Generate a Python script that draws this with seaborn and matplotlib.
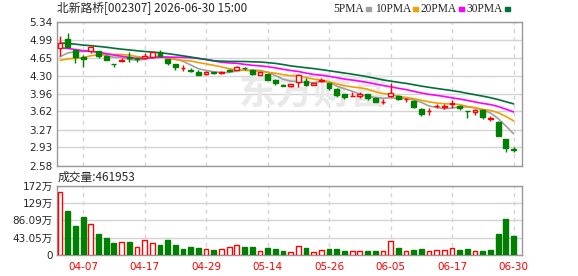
import numpy as np
import pandas as pd
import seaborn as sns
import matplotlib.pyplot as plt
from matplotlib.patches import Rectangle

# --- data ---
dates = ['04-01', '04-02', '04-03', '04-07', '04-08', '04-09', '04-10', '04-13', '04-14', '04-15',
         '04-16', '04-17', '04-20', '04-21', '04-22', '04-23', '04-24', '04-27', '04-28', '04-29',
         '04-30', '05-06', '05-07', '05-08', '05-11', '05-12', '05-13', '05-14', '05-15', '05-18',
         '05-19', '05-20', '05-21', '05-22', '05-25', '05-26', '05-27', '05-28', '05-29', '06-01',
         '06-02', '06-03', '06-04', '06-05', '06-08', '06-09', '06-10', '06-11', '06-12', '06-15',
         '06-16', '06-17', '06-18', '06-22', '06-23', '06-24', '06-25', '06-26', '06-29', '06-30']

open_p = [4.84, 5.01, 4.80, 4.66, 4.78, 4.77, 4.68, 4.53, 4.59, 4.66,
          4.64, 4.64, 4.67, 4.76, 4.62, 4.53, 4.45, 4.41, 4.38, 4.33,
          4.37, 4.35, 4.41, 4.41, 4.46, 4.42, 4.32, 4.33, 4.22, 4.12,
          4.10, 4.19, 4.21, 4.13, 4.20, 4.16, 4.05, 3.95, 3.91, 3.91,
          3.95, 3.87, 3.80, 3.92, 3.92, 3.85, 3.82, 3.67, 3.62, 3.72,
          3.71, 3.77, 3.73, 3.63, 3.60, 3.64, 3.48, 3.42, 3.09, 2.90]
high_p = [5.06, 5.12, 4.82, 4.70, 4.88, 4.78, 4.70, 4.53, 4.64, 4.75,
          4.65, 4.74, 4.76, 4.79, 4.63, 4.53, 4.51, 4.45, 4.42, 4.39,
          4.38, 4.39, 4.44, 4.50, 4.47, 4.43, 4.37, 4.33, 4.25, 4.14,
          4.15, 4.34, 4.27, 4.17, 4.26, 4.17, 4.07, 3.96, 4.00, 4.00,
          3.96, 3.87, 3.86, 4.17, 3.93, 3.88, 3.83, 3.68, 3.68, 3.76,
          3.76, 3.83, 3.74, 3.63, 3.67, 3.67, 3.53, 3.43, 3.09, 2.94]
low_p = [4.68, 4.84, 4.54, 4.48, 4.74, 4.64, 4.61, 4.48, 4.57, 4.57,
         4.57, 4.62, 4.64, 4.66, 4.51, 4.42, 4.40, 4.37, 4.32, 4.31,
         4.33, 4.34, 4.38, 4.41, 4.42, 4.32, 4.32, 4.22, 4.12, 4.10,
         4.09, 4.09, 4.10, 4.12, 4.18, 4.04, 3.90, 3.85, 3.91, 3.87,
         3.84, 3.81, 3.77, 3.90, 3.84, 3.81, 3.69, 3.53, 3.56, 3.69,
         3.66, 3.69, 3.65, 3.50, 3.56, 3.48, 3.43, 3.14, 2.85, 2.84]
close_p = [4.93, 4.86, 4.66, 4.63, 4.85, 4.69, 4.61, 4.52, 4.61, 4.65,
           4.63, 4.68, 4.75, 4.68, 4.54, 4.47, 4.46, 4.40, 4.32, 4.38,
           4.35, 4.38, 4.40, 4.48, 4.45, 4.34, 4.37, 4.22, 4.16, 4.11,
           4.14, 4.32, 4.13, 4.16, 4.23, 4.07, 3.93, 3.89, 3.92, 3.95,
           3.87, 3.81, 3.81, 3.98, 3.86, 3.86, 3.70, 3.57, 3.63, 3.73,
           3.72, 3.78, 3.68, 3.62, 3.64, 3.52, 3.49, 3.15, 2.91, 2.89]

# volume in 万 (10k)
vol_wan = [157.7, 109.4, 71.9, 94.4, 76.9, 51.8, 41.8, 29.3, 31.0, 31.8,
           18.5, 36.0, 28.5, 23.5, 36.0, 23.5, 13.5, 18.5, 16.0, 13.5,
           11.8, 13.5, 18.5, 23.5, 19.3, 19.3, 8.5, 16.8, 14.3, 10.0,
           6.8, 22.5, 16.8, 6.8, 11.0, 14.3, 14.3, 9.3, 9.3, 9.3,
           9.3, 9.3, 9.3, 34.3, 16.8, 9.3, 11.8, 14.3, 9.3, 11.8,
           11.8, 16.0, 11.8, 14.3, 9.3, 9.3, 11.8, 51.8, 89.4, 46.1953]
vol_up = [1, 0, 0, 0, 1, 0, 0, 0, 1, 0,
          1, 1, 1, 0, 0, 0, 0, 0, 0, 1,
          0, 1, 1, 1, 0, 0, 1, 0, 0, 0,
          1, 1, 0, 1, 1, 0, 0, 0, 1, 1,
          0, 0, 1, 1, 0, 1, 0, 0, 1, 1,
          1, 1, 0, 0, 1, 0, 0, 0, 0, 0]

# closes before the window, back-solved from where the MA lines start
prior_close = [5.05, 5.10, 5.15, 5.18, 5.12, 5.08, 5.10, 5.14, 5.08, 5.10,
               5.12, 5.06, 5.10, 5.04, 5.08, 5.13, 5.07, 5.05, 5.09, 5.06,
               4.60, 4.55, 4.50, 4.48, 4.52, 4.50, 4.55, 4.62, 4.75]

ma_windows = [5, 10, 20, 30]
ma_names = ['5PMA', '10PMA', '20PMA', '30PMA']
ma_colors = ['#a0a0a0', '#f0a000', '#ff00ff', '#00703a']

price_ticks = [2.58, 2.93, 3.27, 3.62, 3.96, 4.30, 4.65, 4.99, 5.34]
price_labels = ['2.58', '2.93', '3.27', '3.62', '3.96', '4.30', '4.65', '4.99', '5.34']
vol_ticks = [0, 43.05, 86.09, 129, 172]
vol_labels = ['0', '43.05万', '86.09万', '129万', '172万']
label_idx = [3, 11, 19, 27, 35, 43, 51, 59]

RED = '#ff0000'
GREEN = '#008000'
GRID = '#d4d4d4'
EDGE = '#999999'
CJK = ['Noto Sans CJK SC', 'DejaVu Sans']

sns.set_style('white')
plt.rcParams['font.family'] = ['DejaVu Sans', 'Noto Sans CJK SC']

W, H = 578, 276
fig = plt.figure(figsize=(W / 100, H / 100), dpi=100)


def box(l, t, r, b):
    return [l / W, 1 - b / H, (r - l) / W, (b - t) / H]


ax = fig.add_axes(box(57, 21.7, 522, 165.7))
axv = fig.add_axes(box(57, 186, 522, 254.7))

x = np.arange(len(dates))
o = np.array(open_p)
c = np.array(close_p)
up = c >= o
col = np.where(up, RED, GREEN)

# watermark, under everything in the price panel
ax.text(314 / W, 1 - 93 / H, '东方财富', color='#e9e9e9', fontsize=27, weight='bold',
        family=CJK, ha='center', va='center', transform=fig.transFigure, zorder=1)

# moving averages
all_close = pd.Series(prior_close + close_p)
for w, colr in zip(ma_windows, ma_colors):
    ma = all_close.rolling(w).mean().iloc[len(prior_close):].to_numpy()
    sns.lineplot(x=x, y=ma, color=colr, lw=1.2, ax=ax, zorder=2)

# candles
ax.vlines(x, low_p, high_p, colors=col, lw=1, zorder=3)
body = np.maximum(np.abs(c - o), 0.004)
ax.bar(x, body, bottom=np.minimum(o, c), width=0.62,
       color=np.where(up, 'white', GREEN), edgecolor=col, lw=1, zorder=4)

ax.set_xlim(-0.4, 60.1)
ax.set_ylim(2.58, 5.34)
ax.set_yticks(price_ticks)
ax.set_yticklabels(price_labels)
ax.set_xticks(label_idx)
ax.set_xticklabels([])
ax.tick_params(length=0, pad=3, labelsize=7.5)
ax.set_axisbelow(True)
ax.grid(axis='y', color=GRID, lw=1, ls='-')
ax.grid(axis='x', color=GRID, lw=1, ls=(0, (3, 3)))
ax.set_xlabel('')
ax.set_ylabel('')

# volume
axv.bar(x, vol_wan, width=0.62,
        color=['white' if v else GREEN for v in vol_up],
        edgecolor=[RED if v else GREEN for v in vol_up], lw=1, zorder=3)
axv.set_xlim(-0.4, 60.1)
axv.set_ylim(0, 172)
axv.set_yticks(vol_ticks)
axv.set_yticklabels(vol_labels)
axv.set_xticks(label_idx)
axv.set_xticklabels([dates[i] for i in label_idx], color=RED)
axv.tick_params(length=0, pad=3, labelsize=7.5)
axv.tick_params(axis='x', pad=5, labelsize=7.5)
axv.set_axisbelow(True)
axv.grid(axis='y', color=GRID, lw=1, ls='-')
axv.grid(axis='x', color=GRID, lw=1, ls=(0, (3, 3)))

for a in (ax, axv):
    for s in a.spines.values():
        s.set_color(EDGE)
        s.set_linewidth(1)

# header texts
fig.text(57 / W, 1 - 9 / H, '北新路桥[002307] 2026-06-30 15:00', family=CJK,
         fontsize=8.5, va='center', ha='left')
fig.text(58 / W, 1 - 177 / H, f'成交量:{int(round(vol_wan[-1] * 1e4))}', family=CJK,
         fontsize=8.5, va='center', ha='left')

# MA legend: name then a small colour swatch
mark_x = [366, 413, 459, 505]
for name, colr, mx in zip(ma_names, ma_colors, mark_x):
    fig.text((mx - 2) / W, 1 - 9 / H, name, family='Liberation Serif', fontsize=8.3,
             va='center', ha='right')
    fig.patches.append(Rectangle((mx / W, 1 - 10.5 / H), 5 / W, 4 / H,
                                 transform=fig.transFigure, color=colr))

fig.savefig('out.png', dpi=100)
